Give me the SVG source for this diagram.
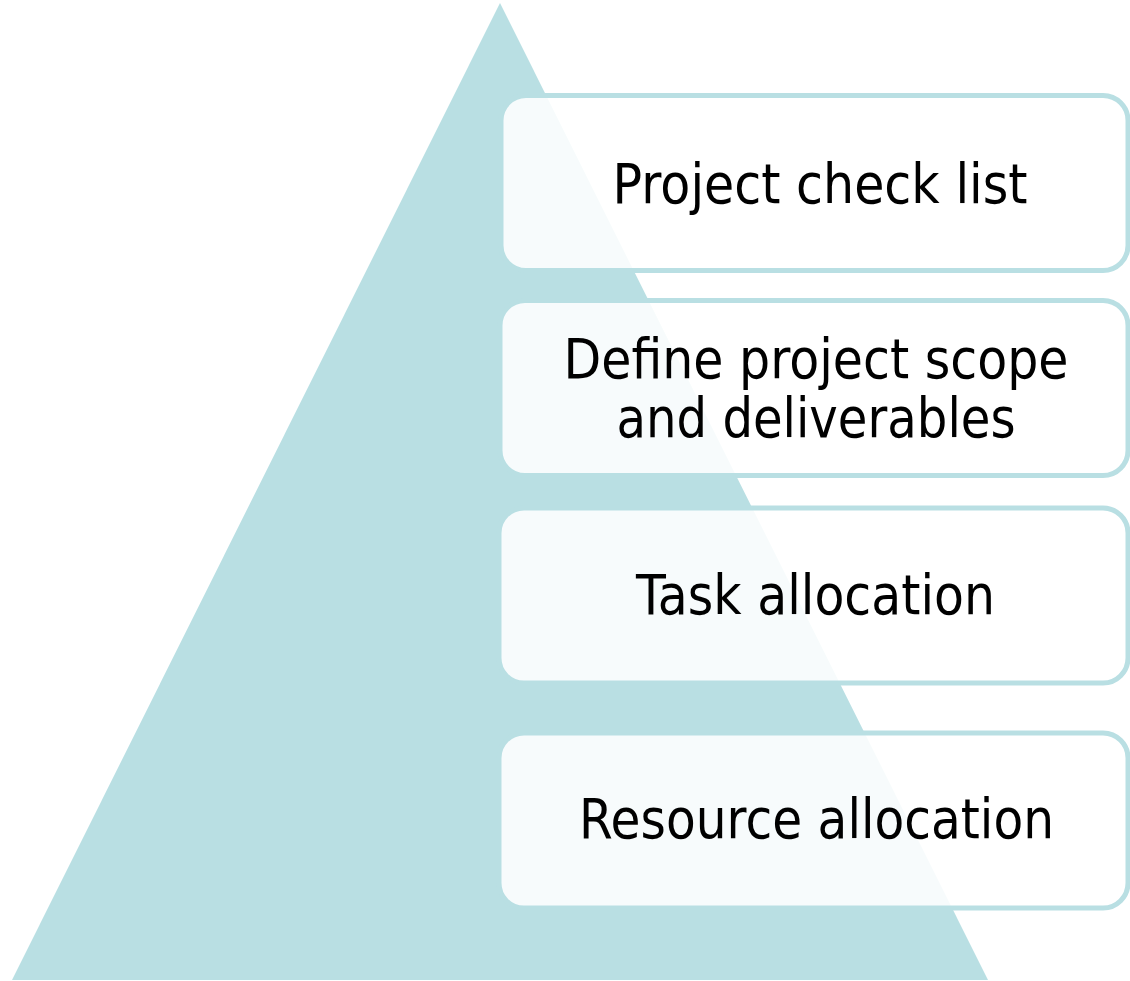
<svg xmlns="http://www.w3.org/2000/svg" width="1130" height="981" viewBox="0 0 1130 981">
  <style>
    .box { fill: #FFFFFF; fill-opacity: 0.88; stroke: #B9DFE3; stroke-width: 5; }
    .lbl { font-family: "DejaVu Sans", Verdana, sans-serif; font-size: 55px; fill: #000000; text-anchor: middle; }
  </style>
  <rect x="0" y="0" width="1130" height="981" fill="#FFFFFF"/>
  <g id="pyramid">
    <polygon points="500,3 988,980 12,980" fill="#B9DFE3"/>
  </g>
  <g id="node1">
    <rect class="box" x="501" y="95.5" width="627" height="175" rx="25" ry="25"/>
    <text class="lbl" x="820" y="203" textLength="415" lengthAdjust="spacingAndGlyphs">Project check list</text>
  </g>
  <g id="node2">
    <rect class="box" x="500" y="300.5" width="628" height="175" rx="25" ry="25"/>
    <text class="lbl" x="816" y="378" textLength="505" lengthAdjust="spacingAndGlyphs">Define project scope</text>
    <text class="lbl" x="816" y="437" textLength="399" lengthAdjust="spacingAndGlyphs">and deliverables</text>
  </g>
  <g id="node3">
    <rect class="box" x="499" y="508" width="629" height="175" rx="25" ry="25"/>
    <text class="lbl" x="815.5" y="614" textLength="359" lengthAdjust="spacingAndGlyphs">Task allocation</text>
  </g>
  <g id="node4">
    <rect class="box" x="499" y="733" width="629" height="175" rx="25" ry="25"/>
    <text class="lbl" x="816.5" y="838" textLength="475" lengthAdjust="spacingAndGlyphs">Resource allocation</text>
  </g>
  <g id="connectors"/>
</svg>
